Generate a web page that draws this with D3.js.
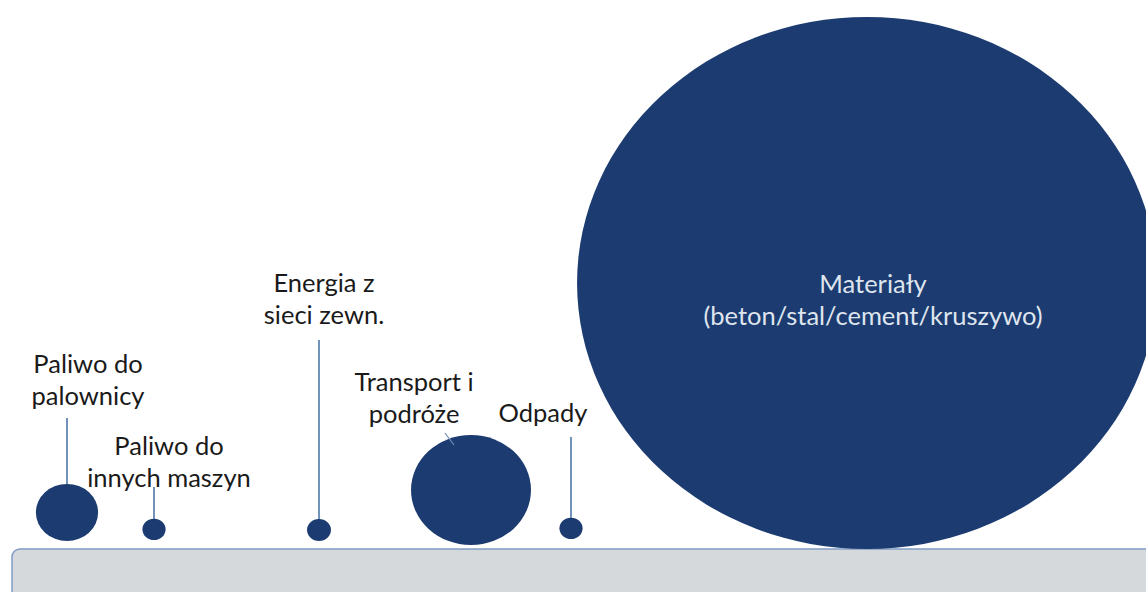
<!DOCTYPE html>
<html><head><meta charset="utf-8">
<script src="https://cdn.jsdelivr.net/npm/d3@7/dist/d3.min.js"></script>
<style>html,body{margin:0;padding:0;background:#fff;overflow:hidden}</style>
</head><body>
<svg id="c" width="1146" height="592"></svg>
<script>
// ---- data ----
const categories = ["Paliwo do palownicy", "Paliwo do innych maszyn", "Energia z sieci zewn.", "Transport i podróże", "Odpady", "Materiały (beton/stal/cement/kruszywo)"];
const labelLines = [["Paliwo do","palownicy"],["Paliwo do","innych maszyn"],["Energia z","sieci zewn."],["Transport i","podróże"],["Odpady"],["Materiały","(beton/stal/cement/kruszywo)"]];
const values = [1.15, 0.16, 0.17, 4.28, 0.16, 100];

// ---- layout (not data) ----
const centerX = [67, 154, 319, 471, 571, 867];
const bottomY = [541, 540, 541, 545, 539, 549];
const labelX = [88, 169, 324, 414, 543, 873];
const labelY = [373, 455, 292, 391, 422, 293];
const leaderTop = [418, 487, 340, null, 437, null];
const aspect = 1.09;

const svg = d3.select("#c");
const r = d3.scaleSqrt().domain([0, d3.max(values)]).range([0, 266]);

// ground box
svg.append("rect").attr("x", 12).attr("y", 549).attr("width", 1160).attr("height", 80)
  .attr("rx", 8).attr("fill", "#d6d9dc").attr("stroke", "#7f9cc3").attr("stroke-width", 1.5);

const g = svg.append("g");
const items = values.map((v, i) => ({ v, i, cx: centerX[i], ry: r(v), rx: r(v) * aspect, cy: bottomY[i] - r(v) }));

// leaders
g.selectAll("line.lead").data(items.filter(d => leaderTop[d.i] != null)).join("line")
  .attr("class", "lead")
  .attr("x1", d => d.cx).attr("x2", d => d.cx)
  .attr("y1", d => leaderTop[d.i]).attr("y2", d => d.cy)
  .attr("stroke", "#7193b9").attr("stroke-width", 2);

// circles
g.selectAll("ellipse").data(items).join("ellipse")
  .attr("cx", d => d.cx).attr("cy", d => d.cy)
  .attr("rx", d => d.rx).attr("ry", d => d.ry)
  .attr("fill", "#1c3b70");

// faint leader for transport
g.append("line").attr("x1", 445).attr("y1", 433).attr("x2", 454).attr("y2", 445)
  .attr("stroke", "#6f8fb5").attr("stroke-width", 1.2);

// labels
const lab = g.selectAll("text.lab").data(items).join("text")
  .attr("class", "lab")
  .attr("x", d => labelX[d.i]).attr("y", d => labelY[d.i])
  .attr("text-anchor", "middle")
  .attr("font-family", "Lato, 'Open Sans', sans-serif")
  .attr("font-size", 25.5)
  .attr("fill", d => d.i === 5 ? "#dfe5ee" : "#1a1a1a");
lab.selectAll("tspan").data(d => labelLines[d.i].map(t => ({ t, x: labelX[d.i] }))).join("tspan")
  .attr("x", d => d.x).attr("dy", (d, k) => k === 0 ? 0 : 32).text(d => d.t);
</script>
</body></html>
